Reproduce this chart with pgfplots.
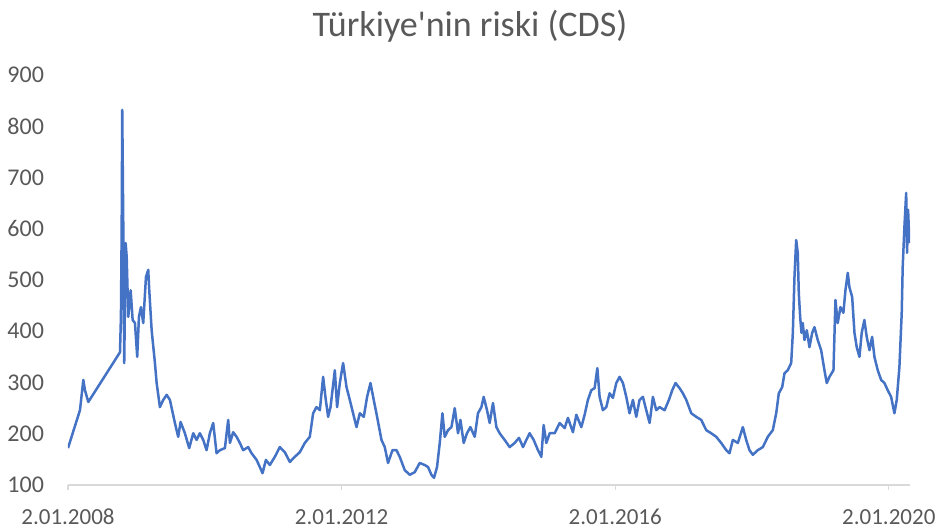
\documentclass[border=0pt]{standalone}
\usepackage{fontspec}
\setmainfont{Carlito}
\usepackage{pgfplots}
\usepackage{pgfplotstable}
\pgfplotsset{compat=1.18}
\definecolor{cdsblue}{HTML}{4472C4}
\definecolor{txtgray}{HTML}{595959}
\definecolor{axgray}{HTML}{D9D9D9}
% Turkey 5y CDS (decimal year, basis points)
\pgfplotstableread{
year cds
2008.000 172
2008.175 246
2008.224 305
2008.248 285
2008.297 262
2008.760 359
2008.774 428
2008.785 603
2008.793 832
2008.808 611
2008.822 338
2008.843 572
2008.858 545
2008.881 428
2008.916 480
2008.945 422
2008.979 416
2009.012 350
2009.037 428
2009.066 447
2009.100 416
2009.140 506
2009.173 520
2009.188 480
2009.223 402
2009.271 338
2009.296 299
2009.344 252
2009.392 266
2009.442 276
2009.490 266
2009.563 221
2009.611 194
2009.646 223
2009.709 201
2009.772 172
2009.831 201
2009.880 188
2009.928 201
2009.977 188
2010.026 168
2010.074 201
2010.123 221
2010.172 162
2010.221 168
2010.294 172
2010.342 227
2010.367 182
2010.415 203
2010.465 194
2010.513 182
2010.561 168
2010.634 174
2010.684 162
2010.757 149
2010.805 135
2010.844 123
2010.893 149
2010.951 139
2011.024 155
2011.097 174
2011.170 164
2011.243 145
2011.316 155
2011.389 164
2011.462 182
2011.535 194
2011.584 240
2011.633 252
2011.682 246
2011.730 311
2011.769 266
2011.803 233
2011.838 252
2011.901 324
2011.934 252
2011.974 299
2012.022 338
2012.072 291
2012.120 266
2012.168 240
2012.218 213
2012.266 240
2012.324 233
2012.373 272
2012.422 299
2012.470 266
2012.519 233
2012.583 188
2012.631 174
2012.679 143
2012.744 168
2012.802 168
2012.850 155
2012.923 129
2012.996 120
2013.069 125
2013.142 143
2013.216 139
2013.264 135
2013.313 120
2013.351 114
2013.395 135
2013.435 182
2013.474 240
2013.508 194
2013.556 207
2013.606 213
2013.654 250
2013.702 201
2013.737 227
2013.785 182
2013.833 201
2013.883 213
2013.946 194
2013.994 240
2014.044 252
2014.077 272
2014.126 246
2014.165 221
2014.213 260
2014.263 213
2014.311 201
2014.384 188
2014.457 174
2014.530 182
2014.593 192
2014.652 174
2014.701 188
2014.749 201
2014.808 188
2014.871 168
2014.920 155
2014.954 217
2014.993 182
2015.042 201
2015.115 201
2015.188 221
2015.261 211
2015.309 231
2015.382 203
2015.432 237
2015.505 213
2015.553 237
2015.601 266
2015.651 285
2015.699 289
2015.739 328
2015.772 272
2015.820 246
2015.870 252
2015.918 279
2015.966 270
2016.016 299
2016.064 311
2016.113 299
2016.162 272
2016.210 240
2016.259 266
2016.308 233
2016.356 266
2016.405 272
2016.454 246
2016.503 221
2016.551 272
2016.600 246
2016.649 252
2016.722 246
2016.785 266
2016.834 285
2016.882 299
2016.941 289
2016.989 279
2017.039 266
2017.112 240
2017.185 233
2017.258 227
2017.331 207
2017.404 201
2017.477 194
2017.550 182
2017.623 168
2017.671 162
2017.720 188
2017.793 182
2017.866 213
2017.915 188
2017.963 168
2018.012 159
2018.085 168
2018.158 174
2018.231 194
2018.304 207
2018.354 240
2018.392 279
2018.441 291
2018.475 318
2018.523 324
2018.573 338
2018.597 397
2018.621 506
2018.646 578
2018.669 553
2018.684 475
2018.704 428
2018.723 397
2018.742 416
2018.767 383
2018.801 402
2018.840 369
2018.880 397
2018.913 408
2018.961 383
2019.011 363
2019.059 324
2019.093 299
2019.132 311
2019.191 324
2019.220 461
2019.253 416
2019.293 447
2019.336 436
2019.366 480
2019.400 514
2019.424 486
2019.464 467
2019.498 397
2019.531 369
2019.571 350
2019.604 397
2019.643 422
2019.677 389
2019.717 363
2019.756 389
2019.790 350
2019.838 324
2019.888 305
2019.936 299
2019.984 285
2020.034 272
2020.082 240
2020.116 266
2020.155 330
2020.189 436
2020.203 525
2020.228 603
2020.254 670
2020.267 553
2020.282 637
2020.301 572
}\cdsdata
\begin{document}
\begin{tikzpicture}
\path[use as bounding box] (-34pt,-23pt) rectangle (436pt,242.5pt);
\begin{axis}[
scale only axis,
width=421pt, height=205pt,
at={(0,0)}, anchor=south west,
xmin=2008, xmax=2020.31,
ymin=100, ymax=900,
xtick={2008,2012,2016,2020},
xticklabels={2.01.2008, 2.01.2012, 2.01.2016, 2.01.2020},
ytick={100,200,...,900},
separate axis lines,
axis x line*=bottom,
axis y line*=left,
x axis line style={draw=axgray, line width=0.75pt, -},
y axis line style={draw=none},
xtick style={draw=axgray, line width=0.6pt},
ytick style={draw=none},
tick align=outside,
major tick length=2.5pt,
/pgf/number format/assume math mode=true,
yticklabel style={font=\fontsize{12}{14}\selectfont, text=txtgray, xshift=-6pt},
xticklabel style={font=\fontsize{11.5}{13}\selectfont, text=txtgray, yshift=-6pt},
]
\addplot[cdsblue, line width=1.25pt, line join=round] table[x=year, y=cds] {\cdsdata};
\end{axis}
\node[font=\fontsize{18}{21}\selectfont, text=txtgray, anchor=base] at (201pt,224pt) {Türkiye\textquotesingle nin riski (CDS)};
\end{tikzpicture}
\end{document}
